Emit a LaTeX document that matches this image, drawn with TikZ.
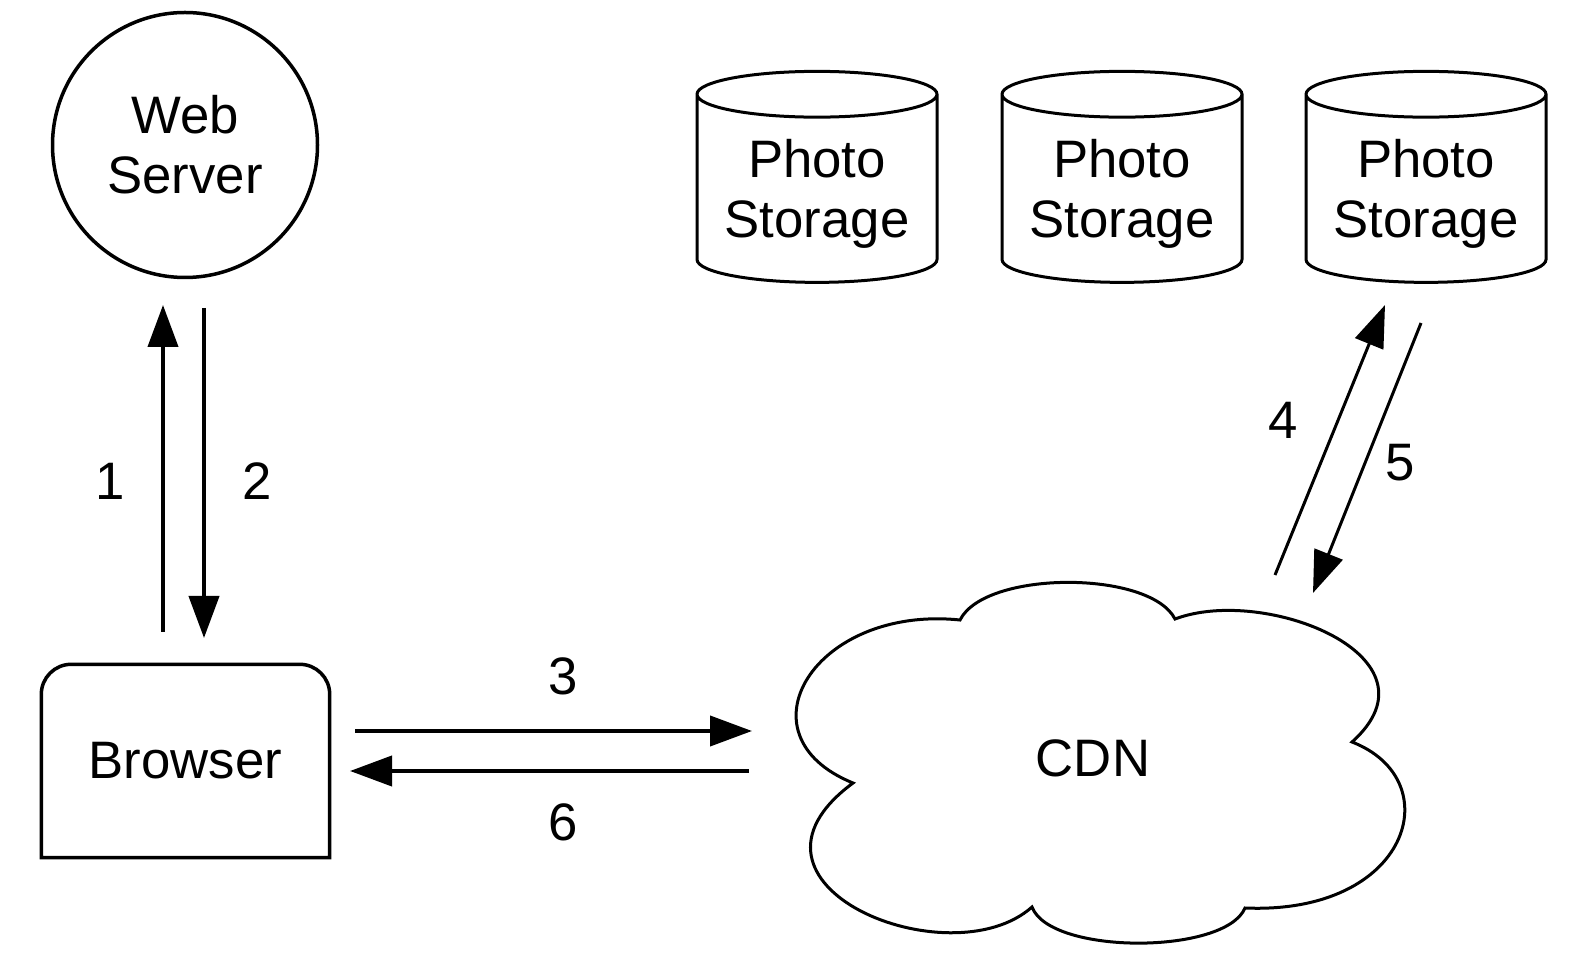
\documentclass[tikz,border=0pt]{standalone}
\usepackage{fontspec}
\setmainfont{Liberation Sans}
\usetikzlibrary{arrows.meta, shapes.geometric}

\begin{document}
\begin{tikzpicture}[x=0.1mm, y=-0.1mm,
    every node/.style={font=\fontsize{15}{17}\selectfont, align=center},
    outline/.style={draw, line width=0.35mm},
    flow/.style={line width=0.4mm, -{Triangle[length=4.2mm, width=3mm]}},
    store/.style={draw, line width=0.3mm, cylinder, shape border rotate=90,
      aspect=0.22, minimum width=24mm, minimum height=21.1mm}]
  \useasboundingbox (0,0) rectangle (1572,964);

  % 1. web server and browser
  \node[outline, circle, minimum size=26.5mm, inner sep=0pt] (web) at (185,145) {Web\\Server};
  \node[minimum width=28.7mm, minimum height=19.2mm] (browser) at (185.5,761) {Browser};
  \draw[outline] (browser.east) -- (browser.south east) -- (browser.south west)
    [rounded corners=3mm] |- (browser.north) -| (browser.east);

  % 2. photo storage
  \node[store] (ps_1) at (817,194) {Photo\\Storage};
  \node[store] (ps_2) at (1122,194) {Photo\\Storage};
  \node[store] (ps_3) at (1426,194) {Photo\\Storage};

  % 3. CDN cloud
  \draw[line width=0.3mm] (853,783)
    .. controls (735,735) and (815,605) .. (960,620)
    .. controls (985,570) and (1150,570) .. (1175,619)
    .. controls (1265,585) and (1447,657) .. (1352,742)
    .. controls (1450,780) and (1410,915) .. (1245,908)
    .. controls (1225,955) and (1050,955) .. (1032,907)
    .. controls (950,980) and (715,885) .. (853,783) -- cycle;
  \node (cdn) at (1093,758) {CDN};

  % 4. end points of the arrows
  \coordinate (up_s) at (163,632);   \coordinate (up_e) at (163,305);
  \coordinate (dn_s) at (204,308);   \coordinate (dn_e) at (204,638);
  \coordinate (req_s) at (355,731);  \coordinate (req_e) at (752,731);
  \coordinate (res_s) at (749,771);  \coordinate (res_e) at (350,771);
  \coordinate (get_s) at (1275,575); \coordinate (get_e) at (1385,305);
  \coordinate (put_s) at (1421,323); \coordinate (put_e) at (1313,593);

  % 5. arrows and step numbers
  \draw[flow] (up_s) -- (up_e);
  \draw[flow] (dn_s) -- (dn_e);
  \draw[flow] (req_s) -- (req_e);
  \draw[flow] (res_s) -- (res_e);
  \draw[flow, line width=0.3mm] (get_s) -- (get_e);
  \draw[flow, line width=0.3mm] (put_s) -- (put_e);
  \node (n_1) at (110,481) {1};
  \node (n_2) at (257,481) {2};
  \node (n_3) at (563,676) {3};
  \node (n_6) at (563,822) {6};
  \node (n_4) at (1283,420) {4};
  \node (n_5) at (1400,463) {5};
\end{tikzpicture}
\end{document}
